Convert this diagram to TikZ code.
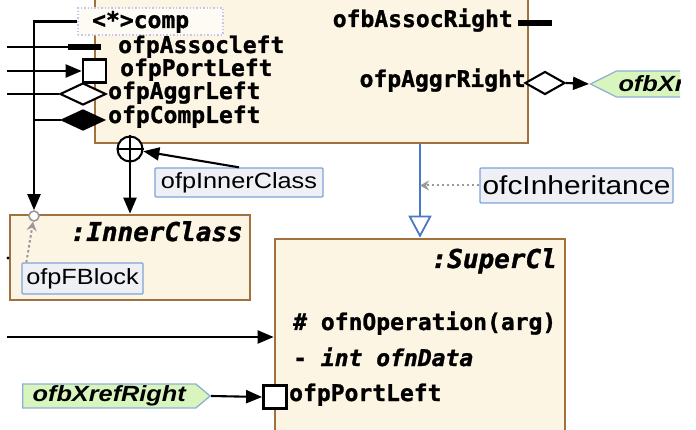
\documentclass[tikz,border=0pt]{standalone}
\usepackage{fontspec}
\setmonofont{DejaVu Sans Mono}[BoldFeatures={FakeBold=1.2},BoldItalicFeatures={FakeBold=1.2}]
\newfontfamily\lblfont[FakeStretch=1.15]{Liberation Sans}
\usetikzlibrary{arrows.meta,shapes.geometric,shapes.symbols}
\definecolor{boxfill}{HTML}{FDF5E4}
\definecolor{boxline}{HTML}{A0703F}
\definecolor{lblfill}{HTML}{EEF0F5}
\definecolor{lblline}{HTML}{7FA3D6}
\definecolor{xfill}{HTML}{D9F5BE}
\definecolor{xline}{HTML}{8FB0D6}
\definecolor{inhblue}{HTML}{4A78C2}
\definecolor{dotgray}{HTML}{9A9A9A}
\definecolor{compdot}{HTML}{C4C4F0}
\tikzset{
  classbox/.style={draw=boxline, fill=boxfill, line width=2.6pt, inner sep=0pt, rectangle},
  monotxt/.style={font=\ttfamily\bfseries\fontsize{23}{27}\selectfont, inner sep=0pt},
  titletxt/.style={font=\ttfamily\bfseries\itshape\fontsize{26}{30}\selectfont, inner sep=0pt},
  lbl/.style={draw=lblline, fill=lblfill, line width=1.3pt, font=\lblfont\fontsize{22}{26}\selectfont, inner sep=0pt, rounded corners=1pt},
  xref/.style={signal, draw=xline, fill=xfill, line width=1.3pt, font=\lblfont\bfseries\itshape\fontsize{22}{26}\selectfont, inner ysep=0pt, minimum height=24pt},
  conn/.style={draw=black, line width=2.1pt},
  arr/.style={conn, -{Triangle[length=16pt,width=13pt]}},
  dotarr/.style={draw=dotgray, line width=2pt, dash pattern=on 2.5pt off 2.5pt, -{Stealth[length=9pt,width=10pt]}},
  portbox/.style={draw=black, fill=white, line width=2.6pt, inner sep=0pt, minimum size=23pt},
  dia/.style={diamond, draw=black, line width=2.1pt, inner sep=0pt},
  bar/.style={fill=black, inner sep=0pt, minimum height=5.5pt}
}
\begin{document}
\begin{tikzpicture}[x=1pt,y=-1pt]
\useasboundingbox (0,0) rectangle (696,430);
\clip (0,0) rectangle (696,430);
% class boxes
\node[classbox, minimum width=433pt, minimum height=163pt] (top) at (311.5,61.5) {};
\node[classbox, minimum width=240pt, minimum height=85pt] (inner) at (130,257.5) {};
\node[classbox, minimum width=290pt, minimum height=220pt] (super) at (420,349) {};
% dotted comp box
\node[draw=compdot, dotted, line width=1.4pt, fill=boxfill!40, minimum width=145pt, minimum height=27pt, inner sep=0pt] (comp) at (150.5,21.5) {};
% free ends
\coordinate (eA) at (7,47);
\coordinate (eP) at (7,71);
\coordinate (eG) at (7,94);
\coordinate (eS) at (7,337);
\coordinate (jn) at (34,21.5);
% markers
\node[bar, minimum width=33pt] (abarL) at (84.5,47) {};
\node[portbox] (portL) at (94.5,71) {};
\node[dia, fill=white, minimum width=46pt, minimum height=22pt] (aggrL) at (83,94) {};
\node[dia, fill=black, minimum width=42pt, minimum height=20pt] (compL) at (83,120) {};
\node[bar, minimum width=34pt] (abarR) at (535,23) {};
\node[dia, fill=white, minimum width=40pt, minimum height=23pt] (aggrR) at (545,83) {};
\node[circle, draw=black, fill=white, line width=2pt, minimum size=25pt, inner sep=0pt] (plus) at (130,149) {};
\draw[line width=1.8pt] (plus.north) -- (plus.south) (plus.west) -- (plus.east);
\node[circle, draw=dotgray, fill=white, line width=1.6pt, minimum size=10pt, inner sep=0pt] (fbcirc) at (34,216) {};
\node[portbox, line width=2.8pt] (portS) at (275,397) {};
\fill (8,258) circle (1.6pt);
% labels
\node[lbl, minimum width=168pt, minimum height=29pt] (lInner) at (239,182.5) {ofpInnerClass};
\node[lbl, minimum width=121pt, minimum height=31pt] (lFB) at (82.5,278.5) {ofpFBlock};
\node[lbl, font=\lblfont\fontsize{26}{30}\selectfont, minimum width=193pt, minimum height=35pt] (lInh) at (576.5,185.5) {ofcInheritance};
\node[xref, signal to=east, signal pointer angle=80, inner xsep=10pt, anchor=west] (xrefL) at (22,396) {ofbXrefRight};
\begin{scope}
\clip (560,0) rectangle (680,430);
\node[xref, signal to=west, signal pointer angle=53, minimum height=26pt, inner xsep=2pt, text width=90pt, anchor=west] (xrefR) at (589,84) {ofbXr};
\end{scope}
% connectors
\draw[conn] (eA) -- (abarL.west);
\draw[arr] (eP) -- (portL.west);
\draw[conn] (eG) -- (aggrL.west);
\draw[arr] (eS) -- (eS -| super.west);
\draw[arr] (comp.west) -- (jn) -- (fbcirc.north);
\draw[conn] (jn |- compL.west) -- (compL.west);
\draw[arr] (plus.south) -- (plus.south |- inner.north);
\draw[arr] (lInner.north) -- (plus);
\draw[dotarr] ([xshift=5pt]lFB.north west) -- (fbcirc);
\draw[draw=inhblue, line width=1.8pt, -{Triangle[open, fill=white, length=22pt, width=23pt]}] (top.south -| super.north) -- (super.north);
\coordinate (inhmid) at (super.north |- lInh.west);
\draw[dotarr] (lInh.west) -- (inhmid);
\draw[arr] (xrefL.east) -- (portS.west);
\draw[arr] (aggrR.east) -- (xrefR.west);
% texts
\node[monotxt, anchor=base west] (tComp) at (92,28) {<*>comp};
\node[monotxt, anchor=base west] (tAssocL) at (118,53) {ofpAssocleft};
\node[monotxt, anchor=base west] (tPortL) at (120,76) {ofpPortLeft};
\node[monotxt, anchor=base west] (tAggrL) at (108,99) {ofpAggrLeft};
\node[monotxt, anchor=base west] (tCompL) at (108,123) {ofpCompLeft};
\node[monotxt, anchor=base east] (tAssocR) at (513,27) {ofbAssocRight};
\node[monotxt, anchor=base east] (tAggrR) at (526,87) {ofpAggrRight};
\node[titletxt, anchor=base east] (tInner) at (243,241) {:InnerClass};
\node[titletxt, anchor=base east] (tSuper) at (557,268) {:SuperCl};
\node[monotxt, anchor=base west] (tOp) at (293,330) {\# ofnOperation(arg)};
\node[monotxt, anchor=base west] (tData) at (293,366) {- \textit{int ofnData}};
\node[monotxt, anchor=base west] (tPortS) at (289,401) {ofpPortLeft};
\end{tikzpicture}
\end{document}
